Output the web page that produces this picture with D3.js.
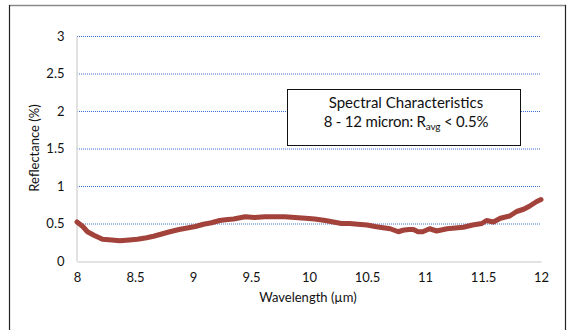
<!DOCTYPE html>
<html><head><meta charset="utf-8">
<script src="https://cdn.jsdelivr.net/npm/d3@7"></script>
<style>body{margin:0;background:#fff;}svg{display:block;font-family:Lato,"Open Sans",sans-serif;}</style>
</head><body>
<svg id="c" width="569" height="330"></svg>
<script>
const wavelength = [8.0,8.05,8.09,8.15,8.22,8.3,8.37,8.45,8.52,8.6,8.66,8.73,8.8,8.88,8.95,9.02,9.09,9.16,9.23,9.28,9.35,9.45,9.53,9.62,9.7,9.79,9.88,9.97,10.05,10.14,10.21,10.28,10.35,10.42,10.5,10.57,10.61,10.7,10.77,10.81,10.86,10.9,10.94,10.98,11.04,11.1,11.19,11.26,11.33,11.41,11.49,11.53,11.59,11.65,11.73,11.79,11.85,11.9,11.96,12.0];
const reflectance = [0.52,0.46,0.39,0.34,0.29,0.28,0.27,0.28,0.29,0.31,0.33,0.36,0.39,0.42,0.44,0.46,0.49,0.51,0.54,0.55,0.56,0.59,0.58,0.59,0.59,0.59,0.58,0.57,0.56,0.54,0.52,0.50,0.50,0.49,0.48,0.46,0.45,0.43,0.39,0.41,0.42,0.42,0.39,0.39,0.43,0.40,0.43,0.44,0.45,0.48,0.50,0.54,0.52,0.57,0.60,0.66,0.69,0.73,0.79,0.82];
const xTicks = [8,8.5,9,9.5,10,10.5,11,11.5,12];
const yTicks = [0,0.5,1,1.5,2,2.5,3];
const xTitle = "Wavelength (\u00b5m)";
const yTitle = "Reflectance (%)";

const svg = d3.select("#c");
// outer frame
svg.append("line").attr("x1",9.5).attr("x2",566).attr("y1",5.5).attr("y2",5.5).attr("stroke","#8a8a8a").attr("stroke-width",1.5);
svg.append("line").attr("x1",9.5).attr("x2",9.5).attr("y1",5).attr("y2",330).attr("stroke","#222").attr("stroke-width",1.2);
svg.append("line").attr("x1",565.5).attr("x2",565.5).attr("y1",5).attr("y2",330).attr("stroke","#222").attr("stroke-width",1.2);

const x = d3.scaleLinear().domain([8,12]).range([77,541]);
const y = d3.scaleLinear().domain([0,3]).range([261,36]);

// gridlines
svg.append("g").selectAll("line").data(yTicks.filter(d=>d>0)).join("line")
  .attr("x1",x(8)).attr("x2",x(12)).attr("y1",d=>y(d)+0.5).attr("y2",d=>y(d)+0.5)
  .attr("stroke","#3a6fd8").attr("stroke-width",1).attr("stroke-dasharray","1,1");

// axes
const xAxis = svg.append("g").attr("transform",`translate(0,${y(0)+0.5})`)
  .call(d3.axisBottom(x).tickValues(xTicks).tickSize(0).tickPadding(11).tickFormat(d=>d3.format("")(d)));
const yAxis = svg.append("g").attr("transform",`translate(${x(8)-0.5},0)`)
  .call(d3.axisLeft(y).tickValues(yTicks).tickSize(0).tickPadding(12).tickFormat(d=>d3.format("")(d)));
[xAxis,yAxis].forEach(a=>{
  a.select(".domain").attr("stroke","#d9d9d9").attr("stroke-width",1.5);
  a.selectAll("text").attr("font-size",13).attr("fill","#111").attr("font-family","Lato,'Open Sans',sans-serif");
});

// line
svg.append("path").datum(wavelength.map((w,i)=>[w,reflectance[i]]))
  .attr("fill","none").attr("stroke","#a3423a").attr("stroke-width",5)
  .attr("stroke-linejoin","round").attr("stroke-linecap","round")
  .attr("d",d3.line().x(d=>x(d[0])).y(d=>y(d[1])).curve(d3.curveLinear));

// titles
svg.append("text").attr("x",308).attr("y",302).attr("text-anchor","middle").attr("font-size",13).attr("fill","#111").text(xTitle);
svg.append("text").attr("transform","translate(39,148) rotate(-90)").attr("text-anchor","middle").attr("font-size",13).attr("fill","#111").text(yTitle);

// annotation box
svg.append("rect").attr("x",287.5).attr("y",89.5).attr("width",233).attr("height",56).attr("fill","#fff").attr("stroke","#111").attr("stroke-width",1);
svg.append("text").attr("x",406).attr("y",108).attr("text-anchor","middle").attr("font-size",15).attr("fill","#111").text("Spectral Characteristics");
const t2 = svg.append("text").attr("x",406).attr("y",127).attr("text-anchor","middle").attr("font-size",15).attr("letter-spacing",-0.2).attr("fill","#111");
t2.append("tspan").text("8 - 12 micron: R");
t2.append("tspan").attr("font-size",10).attr("dy",3).text("avg");
t2.append("tspan").attr("dy",-3).text(" < 0.5%");
</script>
</body></html>
